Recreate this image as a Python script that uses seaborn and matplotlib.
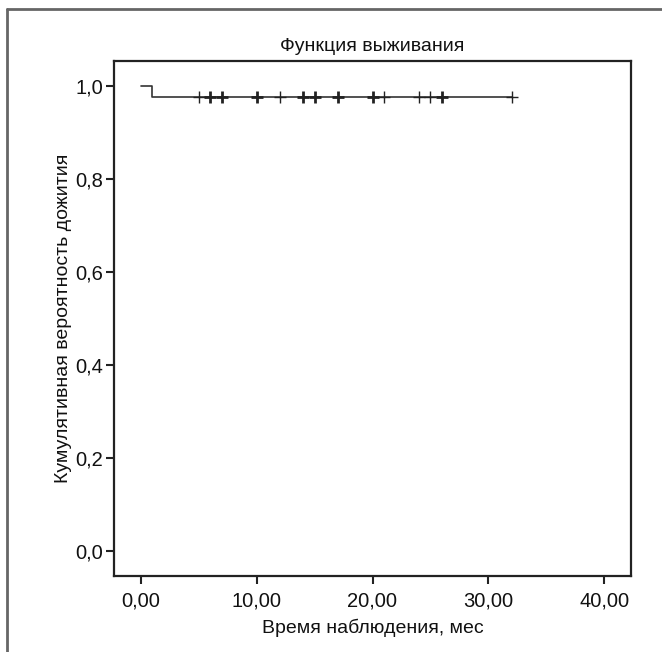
import matplotlib
matplotlib.use("Agg")
import matplotlib.pyplot as plt
from matplotlib.lines import Line2D
import seaborn as sns
import pandas as pd

# ---- data ----
step_times = [0.0, 1.0, 32.0]
step_surv = [1.0, 0.977, 0.977]
censor_times = [5, 6, 7, 10, 12, 14, 15, 17, 20, 21, 24, 25, 26, 32]
censor_counts = [1, 2, 2, 2, 1, 2, 2, 2, 2, 1, 1, 1, 2, 1]
censor_surv = 0.977
x_ticks = [0, 10, 20, 30, 40]
x_ticklabels = ["0,00", "10,00", "20,00", "30,00", "40,00"]
y_ticks = [0.0, 0.2, 0.4, 0.6, 0.8, 1.0]
y_ticklabels = ["0,0", "0,2", "0,4", "0,6", "0,8", "1,0"]
title = "Функция выживания"
xlabel = "Время наблюдения, мес"
ylabel = "Кумулятивная вероятность дожития"

sns.set_theme(style="ticks")
plt.rcParams["font.family"] = ["Liberation Sans", "DejaVu Sans"]

fig = plt.figure(figsize=(6.62, 6.52), dpi=100)
ax = fig.add_axes([114 / 662, 1 - 576 / 652, (631 - 114) / 662, (576 - 61) / 652])

steps = pd.DataFrame({"t": step_times, "s": step_surv})
sns.lineplot(data=steps, x="t", y="s", drawstyle="steps-post", color="#333333",
             linewidth=1.2, ax=ax)

cens = pd.DataFrame({"t": censor_times, "n": censor_counts})
cens["s"] = censor_surv
for n, grp in cens.groupby("n"):
    sns.scatterplot(data=grp, x="t", y="s", marker="+", s=70, color="#222222",
                    linewidth=1.0 if n == 1 else 2.0, ax=ax, legend=False, zorder=3)

ax.set_xlim(-2.3, 42.3)
ax.set_ylim(-0.054, 1.054)
ax.set_xticks(x_ticks)
ax.set_xticklabels(x_ticklabels)
ax.set_yticks(y_ticks)
ax.set_yticklabels(y_ticklabels)
ax.tick_params(axis="both", direction="out", length=6, width=1.5, color="#222222",
               labelsize=14.5, labelcolor="#111111", pad=2)
ax.tick_params(axis="x", pad=5)
for sp in ax.spines.values():
    sp.set_linewidth(1.6)
    sp.set_color("#222222")
    sp.set_visible(True)

ax.set_title(title, fontsize=14, color="#111111", pad=7)
ax.set_xlabel(xlabel, fontsize=14, color="#111111")
ax.set_ylabel(ylabel, fontsize=14, color="#111111")
ax.xaxis.set_label_coords(0.5, -0.083)
ax.yaxis.set_label_coords(-0.082, 0.5)

# outer partial frame (left and top edges)
fig.add_artist(Line2D([7 / 662, 7 / 662], [0, 1 - 9 / 652], transform=fig.transFigure,
                      color="#666666", linewidth=2))
fig.add_artist(Line2D([7 / 662, 1], [1 - 9 / 652, 1 - 9 / 652], transform=fig.transFigure,
                      color="#666666", linewidth=2))

fig.savefig("out.png", dpi=100, facecolor="white")
